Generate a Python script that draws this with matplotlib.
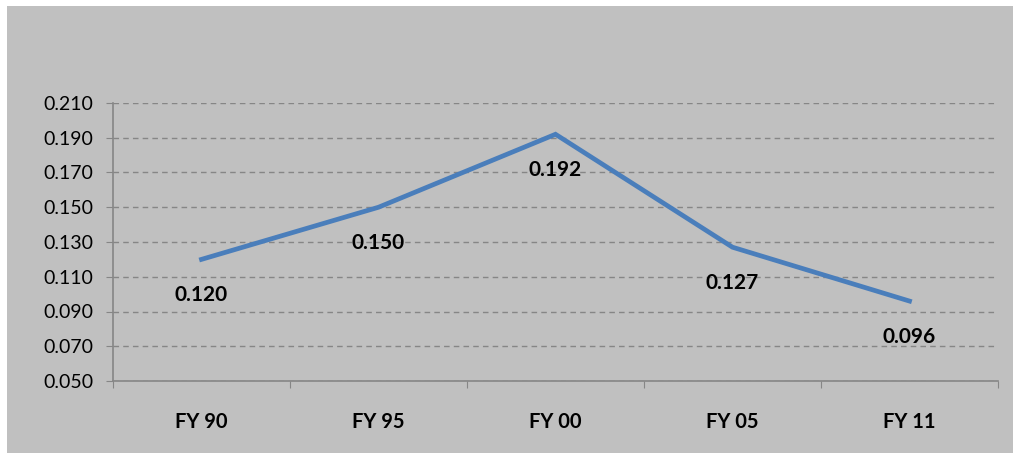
import matplotlib.pyplot as plt
from matplotlib.patches import Rectangle

years = ['FY 90', 'FY 95', 'FY 00', 'FY 05', 'FY 11']
values = [0.120, 0.150, 0.192, 0.127, 0.096]
yticks = [0.050, 0.070, 0.090, 0.110, 0.130, 0.150, 0.170, 0.190, 0.210]

plt.rcParams['font.family'] = ['Lato', 'DejaVu Sans']

fig = plt.figure(figsize=(10.13, 4.53), dpi=100, facecolor='white')
# grey chart area (slightly inset from top-left)
fig.patches.append(Rectangle((7 / 1013, -0.05), 1.1, 1.05 - 6 / 453, transform=fig.transFigure,
                             facecolor='#c0c0c0', edgecolor='none', zorder=-10))

ax = fig.add_axes([113 / 1013, 1 - 381 / 453, 885 / 1013, 278 / 453])
ax.set_facecolor('none')

x = [i + 0.5 for i in range(len(years))]
ax.plot(x, values, color='#4a7ebb', linewidth=3.4, solid_joinstyle='miter', zorder=3)
for xi, v in zip(x, values):
    ax.annotate(f'{v:.3f}', (xi, v), xytext=(0, -26), textcoords='offset points',
                ha='center', va='center', fontsize=15, fontweight='bold', color='black')

ax.set_xlim(0, len(years))
ax.set_ylim(0.050, 0.210)
ax.set_yticks(yticks)
ax.set_yticklabels([f'{t:.3f}' for t in yticks], fontsize=14)
ax.set_xticks(range(len(years) + 1))
ax.set_xticklabels([])
ax.set_xticks(x, minor=True)
ax.set_xticklabels(years, minor=True, fontsize=14.5, fontweight='bold')
ax.tick_params(axis='x', which='minor', length=0, pad=22)
ax.tick_params(axis='x', which='major', length=5, color='#868686', direction='out')
ax.tick_params(axis='y', length=5, color='#868686', pad=9)

ax.grid(axis='y', linestyle=(0, (4, 3)), color='#868686', linewidth=1)
for s in ['top', 'right']:
    ax.spines[s].set_visible(False)
for s in ['left', 'bottom']:
    ax.spines[s].set_color('#868686')
    ax.spines[s].set_linewidth(1.2)

fig.savefig('out.png', dpi=100, facecolor='white')
